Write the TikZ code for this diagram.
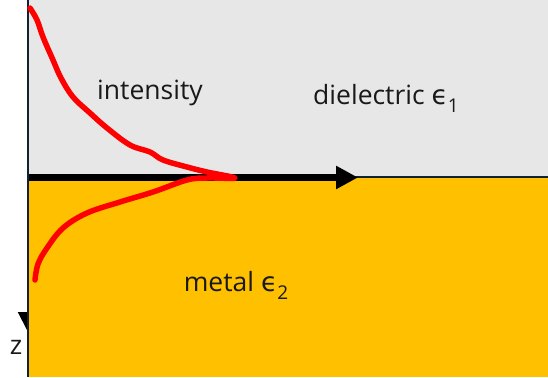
\documentclass[tikz,border=0pt]{standalone}
\usepackage{fontspec}
\setmainfont{Open Sans}
\newfontfamily\dejavu{DejaVu Sans}
\usetikzlibrary{arrows.meta}
\definecolor{dielgray}{HTML}{E7E7E7}
\definecolor{metalgold}{HTML}{FFC000}
\definecolor{axisnavy}{HTML}{0F2233}
\newcommand{\subdigit}[1]{\raisebox{-0.3em}{\fontsize{19}{20}\selectfont #1}}
\tikzset{
  lbl/.style={font=\fontsize{26.5}{30}\selectfont, text=black!90, inner sep=0pt},
  curve/.style={red, line width=5.5pt, line cap=round, line join=round},
}
\begin{document}
\begin{tikzpicture}[x=1pt,y=-1pt]
\useasboundingbox (0,0) rectangle (548,377);
\fill[white] (0,0) rectangle (548,377);
% coordinates
\coordinate (ztop) at (27.5,0);
\coordinate (ztip) at (27.5,331);
\coordinate (xstart) at (29,177.5);
\coordinate (xtip) at (358,177.5);
\coordinate (bl) at (29,177);
\coordinate (br) at (548,177);
% z axis arrow (head partly hidden by metal)
\draw[black, line width=2pt, -{Triangle[length=19pt,width=19pt]}] (ztop) -- (ztip);
% regions
\fill[dielgray] (29,0) rectangle (548,176);
\fill[metalgold] (29,176) rectangle (548,377);
\draw[axisnavy, line width=1.5pt] (bl) -- (br);
% vertical axis line
\draw[axisnavy, line width=2.5pt] (27.8,0) -- (27.8,377);
% x arrow
\draw[black, line width=7pt, -{Triangle[length=22pt,width=22pt]}] (xstart) -- (xtip);
% intensity curve
\draw[curve] plot[smooth, tension=0.6] coordinates {
 (30,8) (37,20) (43,37) (53,60) (61,78) (73,97) (90,113) (107,128) (130,145)
 (150,152) (163,160) (187,167) (207,172) (235,178)
 (207,178) (187,180) (153,192) (120,202) (87,213) (63,228) (47,248) (38,264) (35,280)};
% labels
\node[lbl] (intens) at (150,93) {intensity};
\node[lbl] (diel) at (386,98) {dielectric {\dejavu ϵ}\subdigit{1}};
\node[lbl] (metal) at (236,285) {metal {\dejavu ϵ}\subdigit{2}};
\node[lbl] (zlab) at (16,347) {z};
\end{tikzpicture}
\end{document}
